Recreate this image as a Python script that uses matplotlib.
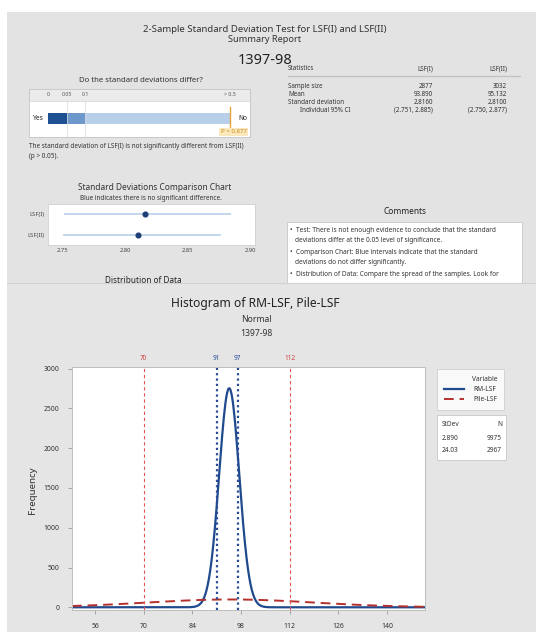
import numpy as np
import matplotlib
matplotlib.use("Agg")
import matplotlib.pyplot as plt
from matplotlib.patches import Rectangle
from matplotlib.lines import Line2D

plt.rcParams['font.family'] = ['Noto Sans', 'DejaVu Sans']
plt.rcParams['text.color'] = '#333333'

W, H = 536, 632

# ---------------- data ----------------
report_title = "2-Sample Standard Deviation Test for LSF(I) and LSF(II)"
report_sub = "Summary Report"
report_id = "1397-98"

# p-value scale of the "do they differ" bar
p_cuts = [0, 0.05, 0.1, 0.5]
p_cut_labels = ["0", "0.05", "0.1", "> 0.5"]
p_value = 0.877

stat_names = ["Sample size", "Mean", "Standard deviation", "Individual 95% CI"]
lsf1_stats = ["2877", "93.890", "2.8160", "(2.751, 2.885)"]
lsf2_stats = ["3032", "95.132", "2.8100", "(2.750, 2.877)"]

cmp_groups = ["LSF(I)", "LSF(II)"]
cmp_sd = [2.816, 2.810]
cmp_lo = [2.751, 2.750]
cmp_hi = [2.885, 2.877]
cmp_ticks = [2.75, 2.80, 2.85, 2.90]

comment_lines = [
    "\u2022  Test: There is not enough evidence to conclude that the standard",
    "deviations differ at the 0.05 level of significance.",
    "\u2022  Comparison Chart: Blue intervals indicate that the standard",
    "deviations do not differ significantly.",
    "\u2022  Distribution of Data: Compare the spread of the samples. Look for",
]

hist_vars = ["RM-LSF", "Pile-LSF"]
hist_mean = [94.6, 95.0]
hist_sd = [2.890, 24.03]
hist_sd_txt = ["2.890", "24.03"]
hist_n = [9975, 2967]
bin_width = 2.0
ref_red = [70, 112]
ref_blue = [91, 97]
x_ticks = [56, 70, 84, 98, 112, 126, 140]
y_ticks = [0, 500, 1000, 1500, 2000, 2500, 3000]


# ---------------- helpers (pixel layout) ----------------
def fbox(x0, y0, x1, y1):
    return [x0 / W, 1 - y1 / H, (x1 - x0) / W, (y1 - y0) / H]


def ftext(x, y, s, **kw):
    kw.setdefault('va', 'center')
    return fig.text(x / W, 1 - y / H, s, **kw)


def frect(x0, y0, x1, y1, **kw):
    r = Rectangle((x0 / W, 1 - y1 / H), (x1 - x0) / W, (y1 - y0) / H,
                  transform=fig.transFigure, **kw)
    fig.add_artist(r)
    return r


fig = plt.figure(figsize=(W / 100, H / 100), dpi=100)
fig.patch.set_facecolor('white')

# ---------------- top panel: summary report ----------------
frect(7, 12, 536, 283, fc='#e3e3e3', ec='none', zorder=-2)

ftext(265, 29, report_title, ha='center', fontsize=6.9)
ftext(265, 40, report_sub, ha='center', fontsize=6.6)
ftext(265, 60, report_id, ha='center', fontsize=10.4, color='#222222')

ftext(141, 80, "Do the standard deviations differ?", ha='center', fontsize=5.6)

ax_p = fig.add_axes(fbox(29, 89, 250, 137))
knot_p = [-0.05, 0, 0.05, 0.1, 0.5, 0.6]
knot_pos = [-19, 0, 19, 37, 182, 202]
ax_p.set_xscale('function', functions=(lambda p: np.interp(p, knot_p, knot_pos),
                                       lambda x: np.interp(x, knot_pos, knot_p)))
ax_p.set_xlim(-0.05, 0.6)
ax_p.set_ylim(0, 1)
ax_p.axhspan(0.76, 1.0, color='#ebebeb', lw=0)
ax_p.axhline(0.76, color='#cfcfcf', lw=0.5)
for p in p_cuts[1:3]:
    ax_p.axvline(p, ymin=0, ymax=0.76, color='#d9d9d9', lw=0.5)
seg_colors = ['#1d4f93', '#6d98cc', '#b8cfea']
ax_p.barh([0.39] * 3, np.diff(p_cuts), left=p_cuts[:-1], height=0.22,
          color=seg_colors, edgecolor='none')
for p, lab in zip(p_cuts, p_cut_labels):
    ax_p.text(p, 0.88, lab, ha='center', va='center', fontsize=3.8, color='#555555')
pm = min(p_value, 0.5)
ax_p.plot([pm, pm], [0.2, 0.62], color='#e3a53c', lw=1.0)
ax_p.text(0.985, 0.11, "P = %.3f" % p_value, transform=ax_p.transAxes, ha='right',
          va='center', fontsize=4.4, color='#c98a1e',
          bbox=dict(boxstyle='square,pad=0.25', fc='#fbe9bd', ec='none'))
ax_p.text(0.018, 0.39, "Yes", transform=ax_p.transAxes, ha='left', va='center',
          fontsize=4.8, fontweight='bold', color='#222222')
ax_p.text(0.988, 0.39, "No", transform=ax_p.transAxes, ha='right', va='center',
          fontsize=4.8, fontweight='bold', color='#222222')
ax_p.set_xticks([])
ax_p.set_yticks([])
for sp in ax_p.spines.values():
    sp.set_color('#c4c4c4')
    sp.set_linewidth(0.6)

ftext(29, 147, "The standard deviation of LSF(I) is not significantly different from LSF(II)",
      ha='left', fontsize=4.6)
ftext(29, 157, "(p > 0.05).", ha='left', fontsize=4.6)

# statistics table
ftext(288, 69, "Statistics", ha='left', fontsize=4.5)
ftext(433, 69, "LSF(I)", ha='right', fontsize=4.5)
ftext(507, 69, "LSF(II)", ha='right', fontsize=4.5)
fig.add_artist(Line2D([288 / W, 520 / W], [1 - 76 / H, 1 - 76 / H],
                      transform=fig.transFigure, color='#c2c2c2', lw=0.9))
row_y = [86, 94, 102, 110]
for i, name in enumerate(stat_names):
    indent = 300 if i == 3 else 288
    ftext(indent, row_y[i], name, ha='left', fontsize=4.5)
    ftext(433, row_y[i], lsf1_stats[i], ha='right', fontsize=4.5)
    ftext(507, row_y[i], lsf2_stats[i], ha='right', fontsize=4.5)

# comparison chart
ftext(155, 188, "Standard Deviations Comparison Chart", ha='center', fontsize=6.0)
ftext(151, 199, "Blue indicates there is no significant difference.", ha='center', fontsize=4.6)
ax_c = fig.add_axes(fbox(48, 204, 255, 245))
ypos = [1, 0]
ax_c.hlines(ypos, cmp_lo, cmp_hi, color='#bdd3ec', lw=1.3)
ax_c.plot(cmp_sd, ypos, 'o', color='#1d3f78', ms=3.4)
ax_c.set_xlim(2.738, 2.904)
ax_c.set_ylim(-0.5, 1.5)
ax_c.set_xticks(cmp_ticks)
ax_c.set_xticklabels(["%.2f" % t for t in cmp_ticks])
ax_c.set_yticks(ypos)
ax_c.set_yticklabels(cmp_groups)
ax_c.tick_params(length=0, labelsize=4.2, labelcolor='#444444', pad=2.5)
for sp in ax_c.spines.values():
    sp.set_color('#d0d0d0')
    sp.set_linewidth(0.6)

ftext(143, 281, "Distribution of Data", ha='center', fontsize=5.9, color='#222222')

# comments
ftext(405, 212, "Comments", ha='center', fontsize=6.0, color='#222222')
frect(287, 222, 522, 300, fc='white', ec='#c6c6c6', lw=0.6, zorder=1)
for s, y in zip(comment_lines, [231, 241, 253, 263, 274]):
    x = 290 if s.startswith("\u2022") else 295
    ftext(x, y, s, ha='left', fontsize=4.7, zorder=3)

# ---------------- lower panel: histogram ----------------
frect(7, 283, 536, 632, fc='#e5e5e5', ec='none', zorder=5)
fig.add_artist(Line2D([7 / W, 1], [1 - 283 / H] * 2, transform=fig.transFigure,
                      color='#d2d2d2', lw=0.8, zorder=6))

ftext(255, 303, "Histogram of RM-LSF, Pile-LSF", ha='center', fontsize=8.7,
      color='#222222', zorder=11)
ftext(256, 320, "Normal", ha='center', fontsize=6.2, color='#333333', zorder=11)
ftext(256, 333, report_id, ha='center', fontsize=6.2, color='#333333', zorder=11)
ftext(33, 490, "Frequency", ha='center', rotation=90, fontsize=7, zorder=11)

ax = fig.add_axes(fbox(72, 367, 425, 610))
ax.set_zorder(10)
ax.set_facecolor('white')
xmin, xmax = 49.4, 150.9
xx = np.linspace(xmin, xmax, 800)
styles = [dict(color='#1f4a8e', lw=1.6, ls='-'),
          dict(color='#b3302c', lw=1.4, ls=(0, (5, 3)))]
for m, s, n, name, st in zip(hist_mean, hist_sd, hist_n, hist_vars, styles):
    yy = n * bin_width / (s * np.sqrt(2 * np.pi)) * np.exp(-0.5 * ((xx - m) / s) ** 2)
    ax.plot(xx, yy, label=name, **st)

for v in ref_red:
    ax.axvline(v, color='#e05555', lw=0.8, ls=(0, (3, 2.5)))
    ax.text(v, 1.035, str(v), transform=ax.get_xaxis_transform(), ha='center',
            va='center', fontsize=4.6, color='#d04040')
for v in ref_blue:
    ax.axvline(v, color='#2a4c98', lw=1.6, ls=(0, (1, 1.4)))
    ax.text(v, 1.035, str(v), transform=ax.get_xaxis_transform(), ha='center',
            va='center', fontsize=4.6, color='#2a4c98')

ax.set_xlim(xmin, xmax)
ax.set_ylim(-34, 3021)
ax.set_xticks(x_ticks)
ax.set_yticks(y_ticks)
ax.tick_params(labelsize=4.9, labelcolor='#333333', color='#9a9a9a', length=3,
               width=0.6, pad=6)
for sp in ax.spines.values():
    sp.set_color('#bdbdbd')
    sp.set_linewidth(0.7)

leg = ax.legend(title="Variable", loc='upper left', bbox_to_anchor=(437 / W, 1 - 369 / H),
                bbox_transform=fig.transFigure, fontsize=4.8, title_fontsize=4.8,
                alignment='right', frameon=True, fancybox=False, edgecolor='#c8c8c8',
                borderaxespad=0, handlelength=3.0, handletextpad=1.5, borderpad=1.0,
                labelspacing=0.5)
leg.get_frame().set_linewidth(0.6)

frect(437, 415, 506, 460, fc='white', ec='#c8c8c8', lw=0.6, zorder=11)
ftext(442, 424, "StDev", ha='left', fontsize=4.7, zorder=12)
ftext(502, 424, "N", ha='right', fontsize=4.7, zorder=12)
for i in range(len(hist_vars)):
    ftext(442, 438 + 13 * i, hist_sd_txt[i], ha='left', fontsize=4.7, zorder=12)
    ftext(502, 438 + 13 * i, str(hist_n[i]), ha='right', fontsize=4.7, zorder=12)

fig.savefig("out.png", dpi=100)
